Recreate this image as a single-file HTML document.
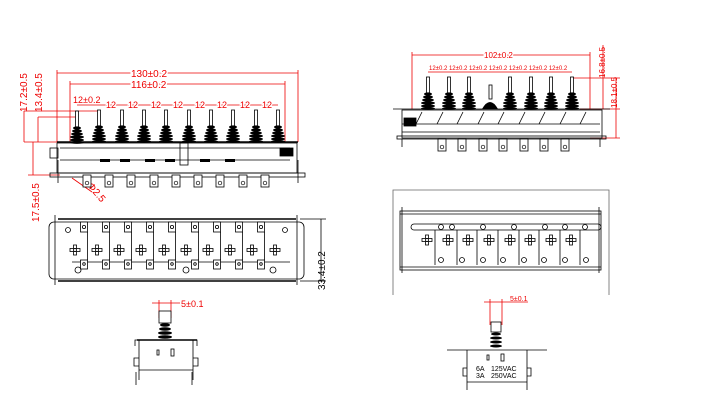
<!DOCTYPE html>
<html><head><meta charset="utf-8"><style>
html,body{margin:0;padding:0;background:#fff}
svg{display:block}
text{font-family:"Liberation Sans",sans-serif}
</style></head><body>
<svg width="704" height="414" viewBox="0 0 704 414" xmlns="http://www.w3.org/2000/svg">
<defs>
<g id="pl">
 <rect x="-1.5" y="0" width="3" height="16" fill="#fff" stroke="#000" stroke-width="0.8"/>
 <g fill="#000">
  <ellipse cx="0" cy="17" rx="4" ry="1.6"/><ellipse cx="0" cy="20" rx="5" ry="1.6"/>
  <ellipse cx="0" cy="23" rx="6" ry="1.6"/><ellipse cx="0" cy="26" rx="7" ry="1.6"/>
  <ellipse cx="0" cy="29" rx="7" ry="1.6"/><ellipse cx="0" cy="31.5" rx="7" ry="1.4"/>
 </g>
</g>
<g id="tab"><rect x="-4" y="0" width="8" height="12" fill="#fff" stroke="#000" stroke-width="0.8"/><circle cx="0" cy="8" r="1.8" fill="none" stroke="#000" stroke-width="0.7"/></g>
<g id="cr" stroke="#000" stroke-width="0.8" fill="#fff"><rect x="-1.5" y="-5" width="3" height="10"/><rect x="-5" y="-1.5" width="10" height="3"/><circle r="1.5"/></g>
<g id="bar" fill="#fff" stroke="#000" stroke-width="0.8"><rect x="-3.5" y="0" width="7" height="10"/><circle cx="0" cy="5" r="1.6"/><rect x="-3.5" y="38" width="7" height="9"/><circle cx="0" cy="42" r="1.3"/><line x1="3.5" y1="10" x2="3.5" y2="38"/></g>
</defs>

<!-- ===== LEFT TOP VIEW ===== -->
<g stroke="#e00" stroke-width="0.8" fill="none">
 <line x1="57" y1="73" x2="298" y2="73"/><line x1="57" y1="70" x2="57" y2="142"/><line x1="298" y1="70" x2="298" y2="142"/>
 <line x1="70" y1="84" x2="285" y2="84"/><line x1="70" y1="81" x2="70" y2="142"/><line x1="285" y1="81" x2="285" y2="142"/>
 <line x1="77" y1="105" x2="278" y2="105"/>
 <line x1="24" y1="111" x2="100" y2="111"/><line x1="24" y1="142" x2="57" y2="142"/>
 <line x1="38" y1="117" x2="77" y2="117"/>
 <line x1="24" y1="111" x2="24" y2="142"/><line x1="38" y1="117" x2="38" y2="142"/>
 <line x1="33" y1="142" x2="33" y2="175"/><line x1="28" y1="175" x2="60" y2="175"/>
 <line x1="72" y1="178" x2="92" y2="192"/>
</g>
<g fill="#e00" font-size="10">
 <text x="131" y="77" style="fill:#e00" stroke="#fff" stroke-width="3" paint-order="stroke">130±0.2</text>
 <text x="131" y="88" stroke="#fff" stroke-width="3" paint-order="stroke">116±0.2</text>
 <text x="73" y="103" font-size="9">12±0.2</text>
 <g font-size="9" stroke="#fff" stroke-width="2.5" paint-order="stroke">
  <text x="106" y="108">12</text><text x="128" y="108">12</text><text x="151" y="108">12</text><text x="173" y="108">12</text><text x="195" y="108">12</text><text x="217" y="108">12</text><text x="240" y="108">12</text><text x="262" y="108">12</text>
 </g>
 <text transform="translate(27,112) rotate(-90)" font-size="10">17.2±0.5</text>
 <text transform="translate(42,112) rotate(-90)" font-size="10">13.4±0.5</text>
 <text transform="translate(39,222) rotate(-90)" font-size="10">17.5±0.5</text>
 <text transform="translate(87,186) rotate(50)" font-size="10">Φ2.5</text>
</g>
<g>
 <use href="#pl" x="77" y="118" transform="translate(0,-7) scale(1,1)"/>
 <use href="#pl" x="99" y="110"/><use href="#pl" x="122" y="110"/><use href="#pl" x="144" y="110"/><use href="#pl" x="166" y="110"/><use href="#pl" x="189" y="110"/><use href="#pl" x="211" y="110"/><use href="#pl" x="233" y="110"/><use href="#pl" x="256" y="110"/><use href="#pl" x="278" y="110"/>
</g>
<g stroke="#000" stroke-width="0.8" fill="none">
 <line x1="57" y1="142" x2="298" y2="142" stroke-width="1.5"/>
 <rect x="57" y="143" width="240" height="30"/>
 <rect x="50" y="148" width="8" height="10"/>
 <line x1="60" y1="148" x2="290" y2="148"/><line x1="60" y1="160" x2="290" y2="160"/>
 <rect x="50" y="173" width="255" height="4"/>
 <rect x="280" y="148" width="13" height="8" fill="#000"/>
 <line x1="58" y1="160" x2="58" y2="183"/><line x1="298" y1="160" x2="298" y2="183"/>
 <rect x="180" y="143" width="8" height="22"/>
</g>
<g><use href="#tab" x="87" y="175"/><use href="#tab" x="109" y="175"/><use href="#tab" x="131" y="175"/><use href="#tab" x="154" y="175"/><use href="#tab" x="176" y="175"/><use href="#tab" x="198" y="175"/><use href="#tab" x="220" y="175"/><use href="#tab" x="243" y="175"/><use href="#tab" x="265" y="175"/></g>
<g fill="#000"><rect x="100" y="159" width="10" height="3"/><rect x="120" y="159" width="10" height="3"/><rect x="145" y="159" width="10" height="3"/><rect x="165" y="159" width="10" height="3"/><rect x="200" y="159" width="10" height="3"/><rect x="225" y="159" width="10" height="3"/></g>

<!-- ===== LEFT BOTTOM VIEW ===== -->
<g stroke="#000" stroke-width="0.8" fill="none">
 <rect x="49" y="222" width="255" height="57" rx="5"/>
 <line x1="58" y1="219" x2="296" y2="219" stroke-width="1.5"/>
 <line x1="58" y1="281" x2="296" y2="281" stroke-width="1.5"/>
 <line x1="55" y1="215" x2="55" y2="285"/><line x1="297" y1="215" x2="297" y2="285"/>
 <line x1="72" y1="262" x2="290" y2="262"/>
 <circle cx="68" cy="230" r="2.5"/><circle cx="285" cy="230" r="2.5"/>
 <circle cx="78" cy="270" r="3"/><circle cx="186" cy="270" r="3"/><circle cx="273" cy="270" r="3"/>
</g>
<g><use href="#bar" x="84" y="222"/><use href="#bar" x="106" y="222"/><use href="#bar" x="128" y="222"/><use href="#bar" x="150" y="222"/><use href="#bar" x="172" y="222"/><use href="#bar" x="195" y="222"/><use href="#bar" x="217" y="222"/><use href="#bar" x="239" y="222"/><use href="#bar" x="261" y="222"/></g>
<g><use href="#cr" x="75" y="250"/><use href="#cr" x="97" y="250"/><use href="#cr" x="119" y="250"/><use href="#cr" x="141" y="250"/><use href="#cr" x="164" y="250"/><use href="#cr" x="186" y="250"/><use href="#cr" x="208" y="250"/><use href="#cr" x="230" y="250"/><use href="#cr" x="252" y="250"/><use href="#cr" x="275" y="250"/></g>
<g stroke="#000" stroke-width="0.8"><line x1="300" y1="219" x2="326" y2="219"/><line x1="300" y1="281" x2="326" y2="281"/><line x1="321" y1="219" x2="321" y2="281"/></g>
<text transform="translate(325,290) rotate(-90)" font-size="10" fill="#000">33.4±0.2</text>

<!-- ===== LEFT SIDE VIEW ===== -->
<g stroke="#e00" stroke-width="0.8"><line x1="152" y1="303" x2="180" y2="303"/><line x1="159" y1="300" x2="159" y2="318"/><line x1="171" y1="300" x2="171" y2="318"/></g>
<text x="181" y="307" font-size="9" fill="#e00">5±0.1</text>
<rect x="159" y="311" width="12" height="12" fill="#fff" stroke="#000" stroke-width="0.8"/>
<g fill="#000"><ellipse cx="165" cy="325" rx="5" ry="1.7"/><ellipse cx="165" cy="329" rx="6" ry="1.7"/><ellipse cx="165" cy="333" rx="7" ry="1.7"/><ellipse cx="165" cy="337" rx="7" ry="1.7"/></g>
<g stroke="#000" stroke-width="0.8" fill="none">
 <path d="M135 346 v-6 h62 v6 M139 340 v40 M193 340 v40"/>
 <line x1="137" y1="340" x2="197" y2="340" stroke-width="1.5"/>
 <path d="M139 358 h-5 v8 h5 M193 358 h5 v8 h-5"/>
 <line x1="139" y1="370" x2="193" y2="370"/>
 <line x1="136" y1="372" x2="136" y2="385"/><line x1="192" y1="372" x2="192" y2="385"/>
 <rect x="157" y="350" width="2" height="5"/><rect x="171" y="349" width="3" height="7"/>
</g>

<!-- ===== RIGHT TOP VIEW ===== -->
<g stroke="#e00" stroke-width="0.8" fill="none">
 <line x1="412" y1="55" x2="590" y2="55"/><line x1="412" y1="52" x2="412" y2="109"/><line x1="590" y1="52" x2="590" y2="109"/>
 <line x1="428" y1="72" x2="572" y2="72"/>
 <line x1="572" y1="78" x2="620" y2="78"/><line x1="580" y1="109" x2="620" y2="109"/><line x1="590" y1="138" x2="620" y2="138"/>
 <line x1="603" y1="45" x2="603" y2="109"/><line x1="616" y1="78" x2="616" y2="138"/>
</g>
<text x="484" y="58" font-size="8" fill="#e00" stroke="#fff" stroke-width="2.5" paint-order="stroke">102±0.2</text>
<text x="429" y="70" font-size="6" fill="#e00">12±0.2 12±0.2 12±0.2 12±0.2 12±0.2 12±0.2 12±0.2</text>
<text transform="translate(605,78) rotate(-90)" font-size="8" fill="#e00">16.8±0.5</text>
<text transform="translate(617,108) rotate(-90)" font-size="8" fill="#e00">18.1±0.5</text>
<g><use href="#pl" x="428" y="77"/><use href="#pl" x="449" y="77"/><use href="#pl" x="469" y="77"/><use href="#pl" x="510" y="77"/><use href="#pl" x="531" y="77"/><use href="#pl" x="551" y="77"/><use href="#pl" x="572" y="77"/></g>
<rect x="489" y="85" width="3" height="14" fill="#fff" stroke="#000" stroke-width="0.8"/>
<path d="M482 109 q8 -14 16 0z" fill="#000"/>
<g stroke="#000" stroke-width="0.8" fill="none">
 <line x1="393" y1="109" x2="610" y2="109"/>
 <rect x="402" y="110" width="200" height="28"/>
 <rect x="404" y="118" width="12" height="8" fill="#000"/>
 <line x1="402" y1="124" x2="600" y2="124"/><line x1="402" y1="132" x2="600" y2="132"/>
 <rect x="397" y="136" width="209" height="3"/>
 <line x1="402" y1="139" x2="402" y2="147"/><line x1="600" y1="139" x2="600" y2="147"/>
 <path d="M422 112 l-6 12 M443 112 l-6 12 M463 112 l-6 12 M484 112 l-6 12 M504 112 l-6 12 M525 112 l-6 12 M545 112 l-6 12 M566 112 l-6 12 M586 112 l-6 12"/>
</g>
<g><use href="#tab" x="442" y="139"/><use href="#tab" x="462" y="139"/><use href="#tab" x="483" y="139"/><use href="#tab" x="503" y="139"/><use href="#tab" x="524" y="139"/><use href="#tab" x="544" y="139"/><use href="#tab" x="565" y="139"/></g>

<!-- ===== RIGHT BOTTOM VIEW ===== -->
<g stroke="#000" stroke-width="0.8" fill="none">
 <path d="M393 290 V190 H609 V290" stroke="#666"/>
 <rect x="400" y="211" width="201" height="59"/>
 <line x1="400" y1="214" x2="601" y2="214"/><line x1="400" y1="267" x2="601" y2="267"/>
 <rect x="411" y="224" width="190" height="6" rx="3"/>
 <line x1="402" y1="207" x2="402" y2="273"/><line x1="599" y1="207" x2="599" y2="273"/>
 <circle cx="441" cy="227" r="2.5"/><circle cx="452" cy="227" r="2.5"/><circle cx="483" cy="227" r="2.5"/><circle cx="514" cy="227" r="2.5"/><circle cx="545" cy="227" r="2.5"/><circle cx="565" cy="227" r="2.5"/><circle cx="585" cy="227" r="2.5"/>
 <path d="M435 230 V265 M457 230 V265 M477 230 V265 M498 230 V265 M519 230 V265 M539 230 V265 M560 230 V265 M580 230 V265"/>
 <circle cx="441" cy="260" r="2.5"/><circle cx="462" cy="260" r="2.5"/><circle cx="483" cy="260" r="2.5"/><circle cx="503" cy="260" r="2.5"/><circle cx="524" cy="260" r="2.5"/><circle cx="544" cy="260" r="2.5"/><circle cx="565" cy="260" r="2.5"/><circle cx="586" cy="260" r="2.5"/>
</g>
<g><use href="#cr" x="427" y="240"/><use href="#cr" x="448" y="240"/><use href="#cr" x="468" y="240"/><use href="#cr" x="489" y="240"/><use href="#cr" x="510" y="240"/><use href="#cr" x="530" y="240"/><use href="#cr" x="551" y="240"/><use href="#cr" x="571" y="240"/></g>

<!-- ===== RIGHT SIDE VIEW ===== -->
<line x1="393" y1="290" x2="393" y2="295" stroke="#666" stroke-width="0.8"/>
<line x1="609" y1="290" x2="609" y2="295" stroke="#666" stroke-width="0.8"/>
<g stroke="#e00" stroke-width="0.8"><line x1="484" y1="302" x2="528" y2="302"/><line x1="490" y1="299" x2="490" y2="325"/><line x1="502" y1="299" x2="502" y2="325"/></g>
<text x="510" y="301" font-size="7" fill="#e00">5±0.1</text>
<rect x="491" y="322" width="10" height="10" fill="#fff" stroke="#000" stroke-width="0.8"/>
<g fill="#000"><ellipse cx="496" cy="334" rx="5" ry="1.5"/><ellipse cx="496" cy="338" rx="6" ry="1.5"/><ellipse cx="496" cy="342" rx="6" ry="1.5"/><ellipse cx="496" cy="346" rx="6" ry="1.5"/></g>
<g stroke="#000" stroke-width="0.8" fill="none">
 <line x1="447" y1="350" x2="547" y2="350"/>
 <path d="M467 350 v40 M527 350 v40 M467 368 h-4 v8 h4 M527 368 h4 v8 h-4"/>
 <line x1="467" y1="382" x2="527" y2="382"/>
 <rect x="487" y="355" width="2" height="5"/><rect x="501" y="354" width="3" height="7"/>
</g>
<text x="476" y="371" font-size="7" fill="#000">6A</text><text x="476" y="378" font-size="7" fill="#000">3A</text>
<text x="491" y="371" font-size="7" fill="#000">125VAC</text><text x="491" y="378" font-size="7" fill="#000">250VAC</text>
</svg>
</body></html>
